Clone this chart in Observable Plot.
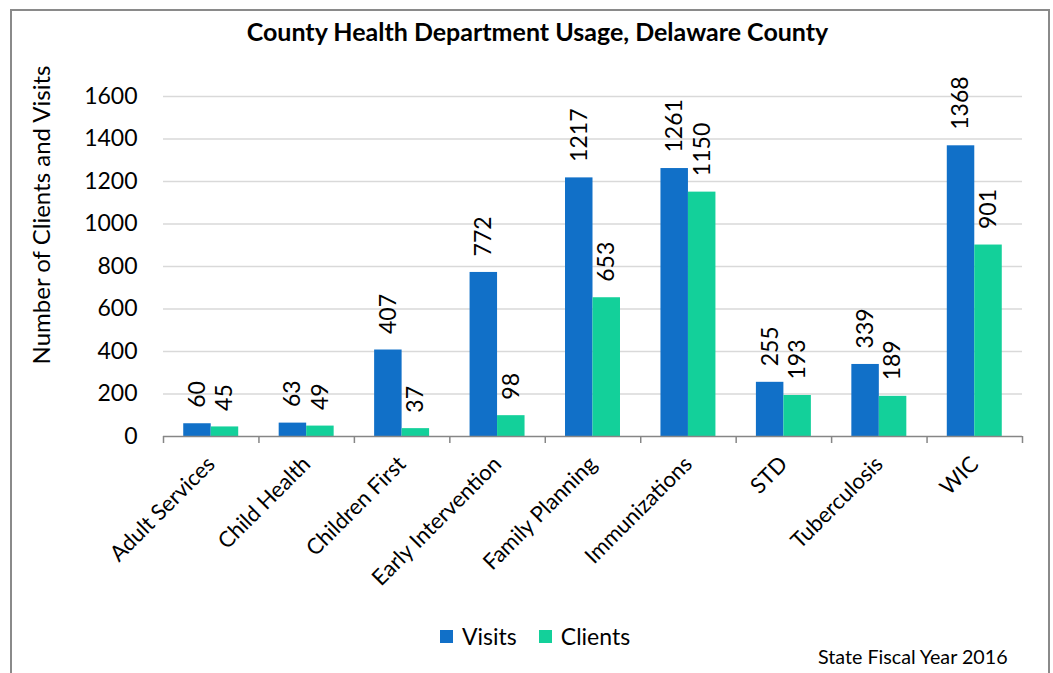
<!DOCTYPE html>
<html>
<head>
<meta charset="utf-8">
<script src="https://cdn.jsdelivr.net/npm/d3@7"></script>
<script src="https://cdn.jsdelivr.net/npm/@observablehq/plot@0.6"></script>
<style>
  html, body { margin: 0; padding: 0; background: #fff; }
  body { width: 1053px; height: 673px; overflow: hidden; position: relative; font-family: Lato, "Open Sans", sans-serif; color: #000; }
  #box { position: absolute; left: 10px; top: 9px; width: 1036px; height: 700px; border: 2px solid #8a8a8a; }
  #title { position: absolute; left: 0; width: 1075px; top: 16px; text-align: center; font-weight: bold; font-size: 25px; }
  #ytitle { position: absolute; left: 40px; top: 215px; transform: translate(-50%, -50%) rotate(-90deg); white-space: nowrap; font-size: 24px; }
  #chart { position: absolute; left: 0; top: 50px; }
  #legend { position: absolute; left: 440px; top: 622px; display: flex; align-items: center; font-size: 23px; }
  #legend .sw { width: 13px; height: 13px; display: inline-block; margin-right: 9px; }
  #legend .item { display: flex; align-items: center; margin-right: 22px; }
  #caption { position: absolute; left: 818px; top: 645px; font-size: 19.7px; }
</style>
</head>
<body>
<div id="box"></div>
<div id="title">County Health Department Usage, Delaware County</div>
<div id="ytitle">Number of Clients and Visits</div>
<div id="chart"></div>
<div id="legend"></div>
<div id="caption">State Fiscal Year 2016</div>
<script>
const categories = ["Adult Services", "Child Health", "Children First", "Early Intervention", "Family Planning", "Immunizations", "STD", "Tuberculosis", "WIC"];
const visits  = [60, 63, 407, 772, 1217, 1261, 255, 339, 1368];
const clients = [45, 49, 37, 98, 653, 1150, 193, 189, 901];
const seriesNames = ["Visits", "Clients"];
const seriesColors = ["#1170C8", "#13D09A"];
const yTicks = [0, 200, 400, 600, 800, 1000, 1200, 1400, 1600];

const rows = categories.flatMap((c, i) => [
  {category: c, i, series: "Visits", value: visits[i]},
  {category: c, i, series: "Clients", value: clients[i]}
]);

const groupPad = 0.212, barW = 0.288;
const bx1 = d => d.i + groupPad + (d.series === "Visits" ? 0 : barW);
const bx2 = d => bx1(d) + barW;

const chart = Plot.plot({
  width: 1053, height: 560,
  marginLeft: 163, marginRight: 31, marginTop: 46, marginBottom: 174,
  style: {fontFamily: "Lato, 'Open Sans', sans-serif", background: "transparent", overflow: "visible", color: "#000"},
  x: {domain: [0, categories.length], axis: null},
  y: {domain: [0, 1600], axis: null},
  color: {domain: seriesNames, range: seriesColors},
  marks: [
    Plot.gridY(yTicks.slice(1), {stroke: "#d9d9d9", strokeOpacity: 1, strokeWidth: 1.5}),
    Plot.axisY(yTicks, {tickSize: 0, tickPadding: 26, fontSize: 23, label: null, tickFormat: d => String(d), fill: "#000"}),
    Plot.rectY(rows, {x1: bx1, x2: bx2, y: "value", fill: "series"}),
    Plot.ruleY([0], {stroke: "#868686", strokeWidth: 1.5}),
    Plot.axisX(d3.range(categories.length + 1), {tickSize: 7, tickFormat: () => "", stroke: "#868686", strokeWidth: 1.5, label: null}),
    Plot.text(rows, {x: d => (bx1(d) + bx2(d)) / 2, y: "value", text: d => String(d.value), rotate: -90, textAnchor: "start", dy: -16, fontSize: 23, fill: "#000"}),
    Plot.text(categories, {x: (d, i) => i + 0.5, frameAnchor: "bottom", text: d => d, rotate: -45, textAnchor: "end", dx: 5, dy: 29, fontSize: 22, fill: "#000"})
  ]
});
document.getElementById("chart").appendChild(chart);

const legend = document.getElementById("legend");
seriesNames.forEach((s, k) => {
  const item = document.createElement("span");
  item.className = "item";
  const sw = document.createElement("span");
  sw.className = "sw";
  sw.style.background = seriesColors[k];
  item.appendChild(sw);
  item.appendChild(document.createTextNode(s));
  legend.appendChild(item);
});
</script>
</body>
</html>
